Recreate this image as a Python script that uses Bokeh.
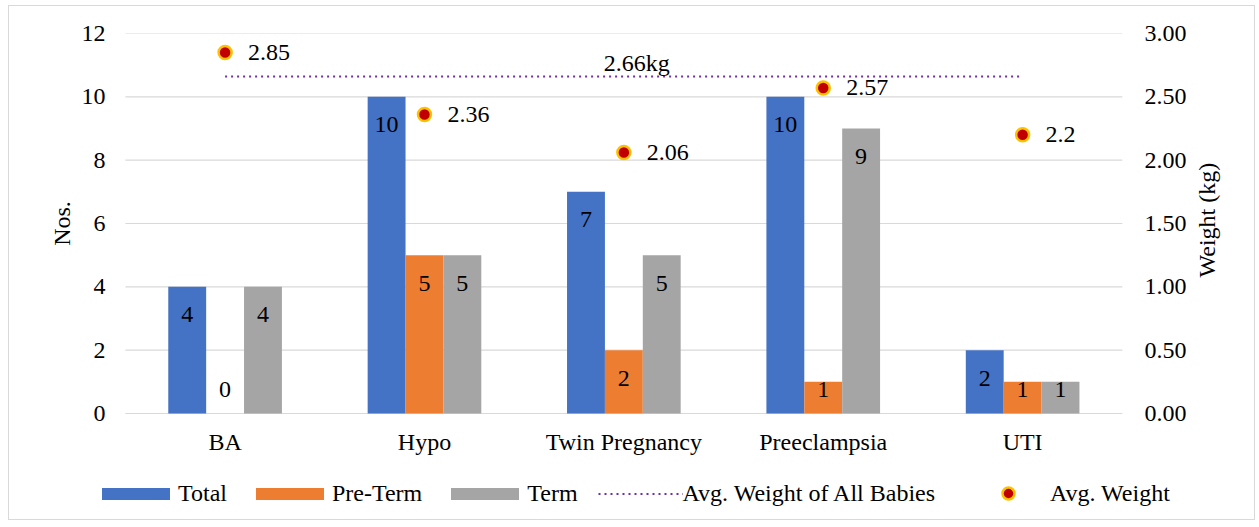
import math
from bokeh.plotting import figure
from bokeh.models import (Range1d, LinearAxis, Legend, LegendItem,
                          FixedTicker, NumeralTickFormatter)
from bokeh.core.properties import value
from bokeh.embed import file_html
from bokeh.resources import INLINE
import numpy as np

categories = ["BA", "Hypo", "Twin Pregnancy", "Preeclampsia", "UTI"]
total = [4, 10, 7, 10, 2]
pre_term = [0, 5, 2, 1, 1]
term = [4, 5, 5, 9, 1]
avg_weight = [2.85, 2.36, 2.06, 2.57, 2.2]
avg_weight_labels = ["2.85", "2.36", "2.06", "2.57", "2.2"]
avg_all = 2.66
avg_all_label = "2.66kg"
left_ticks = [0, 2, 4, 6, 8, 10, 12]
right_ticks = [0, 0.5, 1.0, 1.5, 2.0, 2.5, 3.0]

FONT = "Liberation Serif"
FS = "24px"
BLUE, ORANGE, GRAY = "#4472c4", "#ed7d31", "#a5a5a5"

# layout: the frame is wider/taller than the plot area so that the category
# names and the legend sit inside it (annotations are clipped to the frame)
W, H = 1247, 515
TOP, LEFT, RIGHT = 27, 86, 66
px_per_unit = (H - TOP - 108) / 12.0
y_lo = -108 / px_per_unit
n = len(categories)
x_lo, x_hi = -0.15, n + 0.342

idx = np.arange(n) + 0.5

p = figure(x_range=Range1d(x_lo, x_hi), y_range=Range1d(y_lo, 12),
           width=W, height=H, output_backend="svg", toolbar_location=None,
           min_border_left=LEFT, min_border_right=RIGHT, min_border_top=TOP,
           min_border_bottom=0)
p.extra_y_ranges = {"w": Range1d(y_lo / 4, 3)}
p.styles = {"border": "1.5px solid #d9d9d9", "margin-left": "8px", "margin-top": "5px"}
p.outline_line_color = None
p.xgrid.grid_line_color = None
p.ygrid.grid_line_color = None
p.xaxis.visible = False

# horizontal gridlines over the category span only
p.segment(x0=[0] * len(left_ticks), x1=[n] * len(left_ticks), y0=left_ticks, y1=left_ticks,
          line_color="#d9d9d9", line_width=1.2)

bw = 0.19
series = [("Total", total, BLUE, -bw), ("Pre-Term", pre_term, ORANGE, 0.0), ("Term", term, GRAY, bw)]
items1 = []
for name, vals, col, off in series:
    src = dict(x=list(idx + off), v=vals, lab=[str(v) for v in vals],
               ly=list(np.maximum(np.array(vals, dtype=float), 1.65)))
    r = p.vbar(x="x", top="v", bottom=0, width=bw, source=src,
               fill_color=col, line_color=None)
    items1.append(LegendItem(label=name, renderers=[r]))
    p.text(x="x", y="ly", text="lab", source=src,
           y_offset=28, text_align="center", text_baseline="middle",
           text_font=value(FONT), text_font_size=FS, text_color="#000000")

# category names under the zero line
p.text(x=list(idx), y=[0] * n, text=categories, y_offset=28,
       text_align="center", text_baseline="middle",
       text_font=value(FONT), text_font_size=FS, text_color="#000000")

line_r = p.line(x=[idx[0], idx[-1]], y=[avg_all, avg_all], y_range_name="w",
                line_color="#7030a0", line_width=2, line_dash="2 4")
items1.append(LegendItem(label="Avg. Weight of All Babies", renderers=[line_r]))
p.text(x=[idx[n // 2]], y=[avg_all], text=[avg_all_label], y_range_name="w",
       x_offset=13, y_offset=-14, text_align="center", text_baseline="middle",
       text_font=value(FONT), text_font_size=FS, text_color="#000000")

dot_r = p.scatter(x=list(idx), y=avg_weight, y_range_name="w", size=13,
                  fill_color="#c00000", line_color="#ffc000", line_width=2.5)
p.text(x=list(idx), y=avg_weight, text=avg_weight_labels, y_range_name="w",
       x_offset=23, text_align="left", text_baseline="middle",
       text_font=value(FONT), text_font_size=FS, text_color="#000000")

# axes (leading no-break spaces centre the label on the 0..12 span)
p.yaxis.ticker = FixedTicker(ticks=left_ticks)
p.yaxis.axis_label = "\u00a0" * 18 + "Nos."
p.yaxis.major_label_standoff = -16
p.yaxis.axis_label_standoff = 4
right = LinearAxis(y_range_name="w", ticker=FixedTicker(ticks=right_ticks),
                   formatter=NumeralTickFormatter(format="0.00"), axis_label="Weight (kg)")
right.major_label_standoff = -52
right.axis_label_standoff = 17
right.axis_label_orientation = math.pi / 2
p.add_layout(right, "right")

for ax in [p.yaxis[0], right]:
    ax.axis_line_color = None
    ax.major_tick_line_color = None
    ax.minor_tick_line_color = None
    ax.major_label_text_font = FONT
    ax.major_label_text_font_size = FS
    ax.major_label_text_color = "#000000"
    ax.axis_label_text_font = FONT
    ax.axis_label_text_font_size = FS
    ax.axis_label_text_font_style = "normal"
    ax.axis_label_text_color = "#000000"

common = dict(orientation="horizontal", padding=0, margin=0, border_line_color=None,
              background_fill_alpha=0, label_text_font=FONT, label_text_font_size=FS,
              label_text_color="#000000")
leg1 = Legend(items=items1, location=(-2, 14), glyph_width=85, glyph_height=15,
              label_standoff=0, spacing=20, **common)
leg2 = Legend(items=[LegendItem(label="Avg. Weight", renderers=[dot_r])],
              location=(879, 13), glyph_width=68, glyph_height=30,
              label_standoff=8, spacing=29, **common)
p.add_layout(leg1)
p.add_layout(leg2)

open("out.html", "w").write(file_html(p, INLINE))
